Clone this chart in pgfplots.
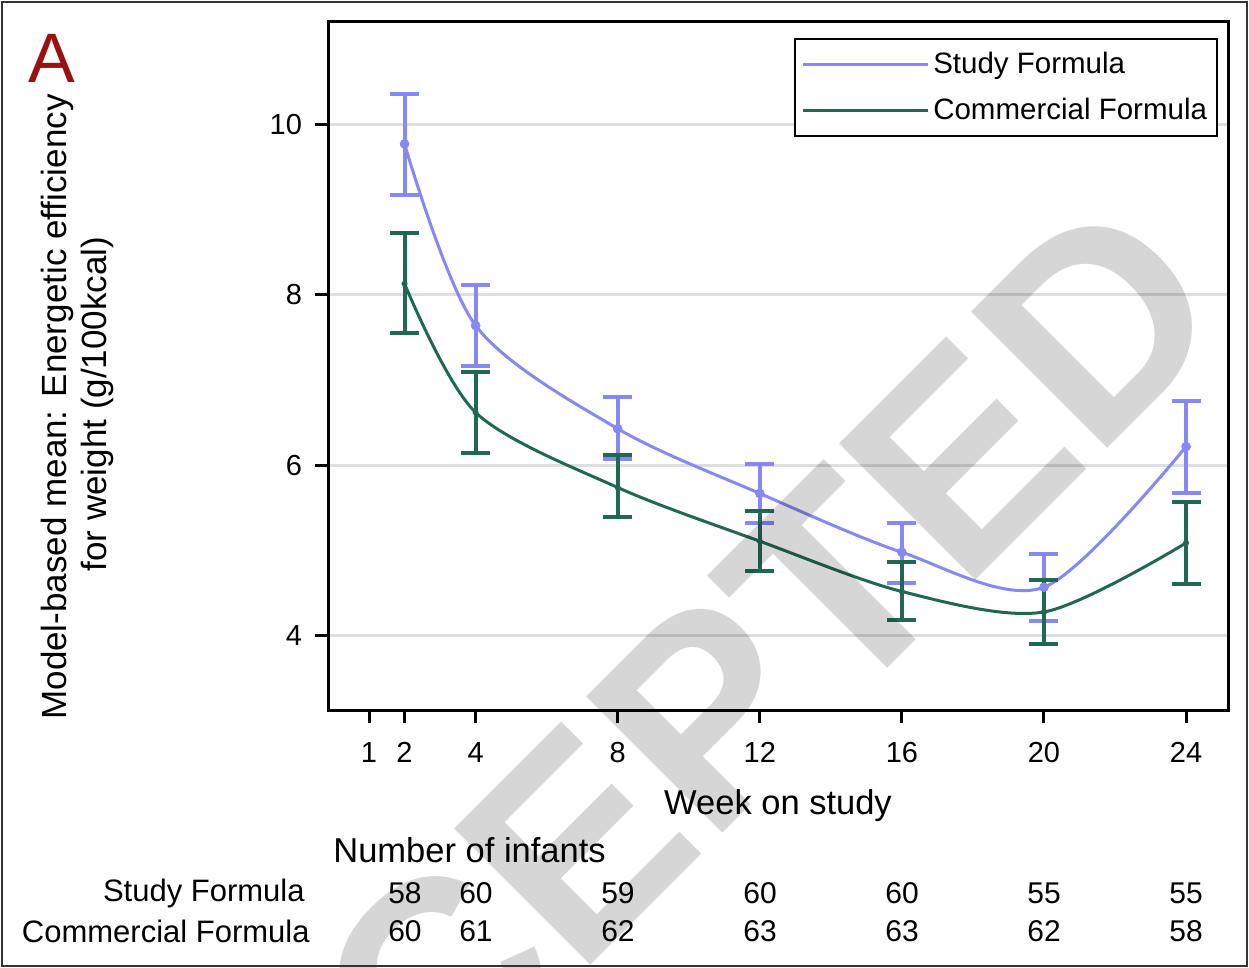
\documentclass[border=0pt]{standalone}
\usepackage{pgfplots}
\pgfplotsset{compat=1.18}
\usepackage{fontspec}
\setmainfont{Liberation Sans}
\definecolor{studyc}{RGB}{133,136,245}
\definecolor{commc}{RGB}{33,104,84}
\definecolor{gridc}{RGB}{222,222,222}
\definecolor{panelred}{RGB}{153,17,17}

\begin{document}
\begin{tikzpicture}
\useasboundingbox (0pt,0pt) rectangle (624.5pt,-484pt);
\begin{axis}[
  at={(164pt,-355pt)}, anchor=south west,
  scale only axis, width=450pt, height=344pt,
  xmin=-0.155, xmax=25.18, ymin=3.13, ymax=11.2,
  xtick={1,2,4,8,12,16,20,24}, ytick={4,6,8,10},
  tick pos=left, tick align=outside, major tick length=6.5pt,
  axis line style={line width=1.5pt},
  every tick/.style={black, line width=1.5pt},
  ymajorgrids, grid style={gridc, line width=1.5pt},
  tick label style={font=\fontsize{14.5}{17}\selectfont},
  /pgf/number format/assume math mode=true,
  xticklabel style={yshift=-6pt},
  yticklabel style={xshift=-3pt},
  legend style={at={(0.9889,0.9767)}, anchor=north east, draw=black,
    line width=1pt, font=\fontsize{14.75}{17}\selectfont,
    row sep=7pt, inner xsep=3pt, inner ysep=4.5pt},
  legend cell align=left,
  legend image code/.code={\draw[#1] (0pt,0pt) -- (56pt,0pt); \path (56pt,0pt) -- (62.5pt,0pt);},
]
% smooth curves
\addplot[studyc, line width=1.5pt, smooth, tension=0.5, mark=none] coordinates {
  (2,9.77) (4,7.64) (8,6.43) (12,5.67) (16,4.98) (20,4.57) (24,6.22)};
\addlegendentry{Study Formula}
\addplot[commc, line width=1.5pt, smooth, tension=0.5, mark=none] coordinates {
  (2,8.13) (4,6.62) (8,5.74) (12,5.11) (16,4.52) (20,4.28) (24,5.09)};
\addlegendentry{Commercial Formula}
% means with 95% limits
\addplot[studyc, only marks, mark=*, mark size=2.2pt, forget plot,
  error bars/.cd, y dir=both, y explicit,
  error bar style={line width=2pt, studyc},
  error mark options={rotate=90, line width=2pt, mark size=7.25pt, studyc}]
  coordinates {
  (2,9.77) += (0,0.59) -= (0,0.60)
  (4,7.64) += (0,0.48) -= (0,0.48)
  (8,6.43) += (0,0.37) -= (0,0.36)
  (12,5.67) += (0,0.35) -= (0,0.35)
  (16,4.98) += (0,0.34) -= (0,0.36)
  (20,4.57) += (0,0.39) -= (0,0.40)
  (24,6.22) += (0,0.54) -= (0,0.54)};
\addplot[commc, only marks, mark=*, mark size=1.3pt, forget plot,
  error bars/.cd, y dir=both, y explicit,
  error bar style={line width=2pt, commc},
  error mark options={rotate=90, line width=2pt, mark size=7.25pt, commc}]
  coordinates {
  (2,8.13) += (0,0.60) -= (0,0.58)
  (4,6.62) += (0,0.47) -= (0,0.48)
  (8,5.74) += (0,0.38) -= (0,0.35)
  (12,5.11) += (0,0.35) -= (0,0.35)
  (16,4.52) += (0,0.35) -= (0,0.34)
  (20,4.28) += (0,0.38) -= (0,0.37)
  (24,5.09) += (0,0.48) -= (0,0.48)};
\end{axis}

\begin{scope}[x=0.5pt,y=-0.5pt]
% panel letter and labels
\node[panelred, font=\fontsize{35}{35}\selectfont, inner sep=0pt] at (52,58) {A};
\node[rotate=90, font=\fontsize{17.5}{20}\selectfont, inner sep=0pt] at (57,407)
  {Model-based mean: Energetic efficiency};
\node[rotate=90, font=\fontsize{17.5}{20}\selectfont, inner sep=0pt] at (97,404)
  {for weight (g/100kcal)};
\node[font=\fontsize{17.25}{20}\selectfont, inner sep=0pt] at (778,806) {Week on study};

% number of infants
\node[font=\fontsize{17.25}{20}\selectfont, inner sep=0pt, anchor=west] at (333,850) {Number of infants};
\node[font=\fontsize{15.5}{18}\selectfont, inner sep=0pt, anchor=east] at (305,893) {Study Formula};
\node[font=\fontsize{15.5}{18}\selectfont, inner sep=0pt, anchor=east] at (310,931) {Commercial Formula};
\foreach \xx/\a/\b in {405/58/60, 476/60/61, 618/59/62, 760/60/63, 902/60/63, 1044/55/62, 1186/55/58} {
  \node[font=\fontsize{15}{18}\selectfont, inner sep=0pt] at (\xx,893) {\a};
  \node[font=\fontsize{15}{18}\selectfont, inner sep=0pt] at (\xx,931) {\b};
}

% watermark
\begin{scope}
\clip (0,0) rectangle (1249,968);
\node[rotate=45, text=black, text opacity=0.16, inner sep=0pt,
  font=\fontsize{140}{140}\bfseries\selectfont] at (625,795) {ACCEPTED};
\end{scope}

% outer frame
\draw[line width=1pt, black!80] (2,2) rectangle (1247,966);
\end{scope}
\end{tikzpicture}
\end{document}
